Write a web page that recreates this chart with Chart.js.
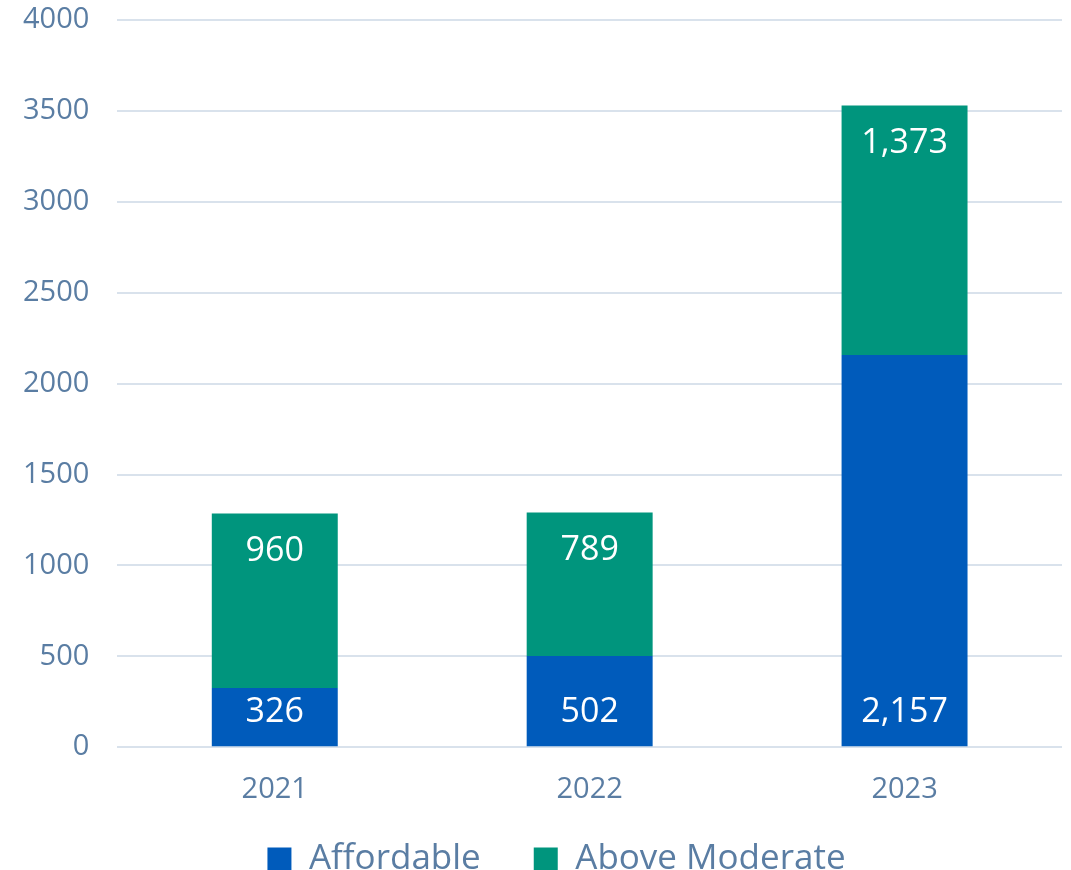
<!DOCTYPE html>
<html lang="en">
<head>
  <meta charset="UTF-8" />
  <title>Units by Year</title>
  <script src="https://cdn.jsdelivr.net/npm/chart.js"></script>
  <style>
    html, body { margin: 0; padding: 0; background: #fff; }
    #wrap { width: 1071px; height: 870px; }
  </style>
</head>
<body>
  <div id="wrap"><canvas id="unitsChart" width="1071" height="870"></canvas></div>

  <script>
    const years = ["2021", "2022", "2023"];
    const affordable = [326, 502, 2157];
    const aboveModerate = [960, 789, 1373];
    const yTicks = [0, 500, 1000, 1500, 2000, 2500, 3000, 3500, 4000];

    const textColor = "#5A7DA3";
    const fontFamily = "'Open Sans', 'Noto Sans', sans-serif";

    // white value labels: Affordable near the bar base, Above Moderate near the top
    const barLabels = {
      id: "barLabels",
      afterDatasetsDraw(chart) {
        const ctx = chart.ctx;
        ctx.save();
        ctx.fillStyle = "#ffffff";
        ctx.font = "34px " + fontFamily;
        ctx.textAlign = "center";
        ctx.textBaseline = "middle";
        chart.data.datasets.forEach((ds, i) => {
          const meta = chart.getDatasetMeta(i);
          meta.data.forEach((bar, j) => {
            const { x, y, base } = bar.getProps(["x", "y", "base"], true);
            const ty = i === 0 ? base - 34 : y + 38;
            ctx.fillText(ds.data[j].toLocaleString("en-US"), x, ty);
          });
        });
        ctx.restore();
      }
    };

    // legend sits a little right of the canvas centre in the original
    const legendShift = {
      id: "legendShift",
      afterLayout(chart) {
        chart.legend.left += 28;
        chart.legend.right += 28;
      }
    };

    new Chart(document.getElementById("unitsChart"), {
      type: "bar",
      data: {
        labels: years,
        datasets: [
          { label: "Affordable", data: affordable, backgroundColor: "#005BBB" },
          { label: "Above Moderate", data: aboveModerate, backgroundColor: "#00957D" }
        ]
      },
      options: {
        responsive: false,
        animation: false,
        layout: { padding: { top: 20, right: 9, left: -5, bottom: -17 } },
        datasets: { bar: { categoryPercentage: 1, barPercentage: 0.4 } },
        plugins: {
          legend: {
            position: "bottom",
            labels: {
              color: textColor,
              font: { family: fontFamily, size: 35 },
              boxWidth: 24, boxHeight: 24, padding: 18,
              // wider gap between the two entries, like the original
              generateLabels: chart => {
                const items = Chart.defaults.plugins.legend.labels.generateLabels(chart);
                items.forEach((it, k) => { if (k < items.length - 1) it.text += "\u2003"; });
                return items;
              }
            }
          },
          tooltip: { enabled: false }
        },
        scales: {
          x: {
            stacked: true,
            grid: { display: false },
            border: { display: false },
            ticks: { color: textColor, font: { family: fontFamily, size: 29 }, padding: 17 }
          },
          y: {
            stacked: true,
            min: 0,
            max: 4000,
            afterBuildTicks: axis => { axis.ticks = yTicks.map(v => ({ value: v })); },
            afterFit: axis => { axis.paddingTop = 0; axis.paddingBottom = 0; },
            grid: { color: "#D9E2EC", lineWidth: 2, drawTicks: false },
            border: { display: false },
            ticks: {
              color: textColor,
              font: { family: fontFamily, size: 29 },
              padding: 28,
              callback: v => String(v)
            }
          }
        }
      },
      plugins: [barLabels, legendShift]
    });
  </script>
</body>
</html>
